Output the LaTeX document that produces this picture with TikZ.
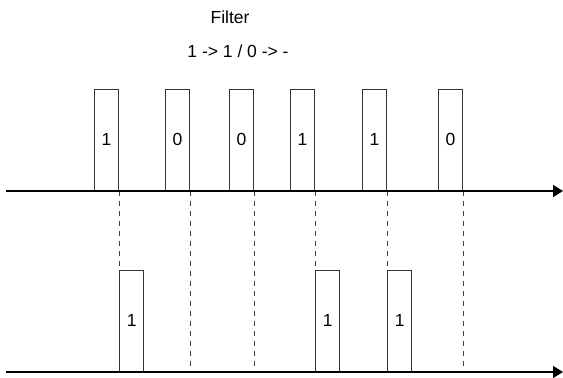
\documentclass[tikz,border=0pt]{standalone}
\usepackage{fontspec}
\setmainfont{Liberation Sans}
\usetikzlibrary{arrows.meta}
\usetikzlibrary{positioning}

\tikzset{
  bit/.style={draw=black!80, line width=0.65pt, inner sep=0pt, anchor=south west,
    minimum width=14.4pt, minimum height=60.6pt, font=\fontsize{10.5}{12.6}\selectfont},
  lbl/.style={inner sep=0pt, font=\fontsize{10.5}{12.6}\selectfont},
  guide/.style={draw=black!75, line width=0.6pt, dash pattern=on 3pt off 3pt},
  axis/.style={line width=0.8pt, -{Triangle[length=6pt, width=7.2pt]}}
}

\begin{document}
\begin{tikzpicture}[x=0.6pt, y=-0.6pt]
  \useasboundingbox (0,0) rectangle (563,378);
  % 标题与规则
  \node[lbl] (title) at (230,17) {Filter};
  \node[lbl] (rule) at (238,51) {1 -> 1 / 0 -> -};
  % 两条时间轴的端点
  \coordinate (A0) at (6,191);
  \coordinate (A1) at (563,191);
  \coordinate (B0) at (6,372);
  \coordinate (B1) at (563,372);
  % 循环布置输入比特
  \foreach \x/\b [count=\i] in {94/1,165/0,229/0,290/1,362/1,438/0}
  {
    \node[bit] (in\i) at (\x,191) {\b};% 左下角对齐轴线
  }
  % 输出比特（仅保留 1）
  \node[bit] (out1) at (in1.south east |- B0) {1};
  \node[bit] (out4) at (in4.south east |- B0) {1};
  \node[bit] (out5) at (in5.south east |- B0) {1};
  % 对应虚线
  \draw[guide] (in1.south east) -- (out1.north west);
  \draw[guide] (in2.south east) -- (in2.south east |- B0);
  \draw[guide] (in3.south east) -- (in3.south east |- B0);
  \draw[guide] (in4.south east) -- (out4.north west);
  \draw[guide] (in5.south east) -- (out5.north west);
  \draw[guide] (in6.south east) -- (in6.south east |- B0);
  % 绘制时间轴
  \draw[axis] (A0) -- (A1);
  \draw[axis] (B0) -- (B1);
\end{tikzpicture}
\end{document}
